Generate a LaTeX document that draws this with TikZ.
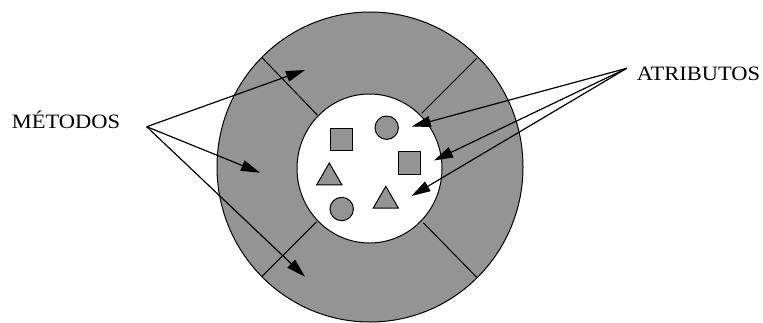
\documentclass[tikz,border=0pt]{standalone}
\usepackage{fontspec}
\setmainfont{Liberation Serif}
\usetikzlibrary{arrows.meta,shapes.geometric}
\definecolor{ringgray}{RGB}{148,148,148}
\tikzset{
  ring/.style={draw=black,line width=1bp},
  sq/.style={draw=black,fill=ringgray,line width=1bp,minimum size=22.5bp,inner sep=0pt,rectangle},
  circ/.style={draw=black,fill=ringgray,line width=1bp,minimum size=23.4bp,inner sep=0pt,circle},
  tri/.style={draw=black,fill=ringgray,line width=1bp,regular polygon,regular polygon sides=3,minimum size=29bp,inner sep=0pt},
  lbl/.style={font=\fontsize{20.5}{24}\selectfont,inner sep=0pt,text=black},
  arr/.style={line width=1.2bp,-{Triangle[length=19bp,width=11bp]}}
}
\begin{document}
\begin{tikzpicture}[x=1bp,y=-1bp]
\useasboundingbox (0,0) rectangle (763,322);
% ring
\fill[ringgray] (370,167) ellipse [x radius=153, y radius=155];
\draw[ring] (370,167) ellipse [x radius=153, y radius=155];
\draw[ring,fill=white] (369.5,168.5) ellipse [x radius=72.5, y radius=74.5];
% dividers
\draw[ring] (261.7,57.3) -- (317.3,115);
\draw[ring] (476.7,58.3) -- (421.7,113.3);
\draw[ring] (316.7,221.7) -- (261.7,276.7);
\draw[ring] (423.3,222.7) -- (476.7,277.3);
% shapes
\node[sq] (s1) at (341.7,139.3) {};
\node[sq] (s2) at (409.7,162.8) {};
\node[circ] (c1) at (386.7,127.7) {};
\node[circ] (c2) at (341.7,209) {};
\node[tri] (t1) at (329.3,177.5) {};
\node[tri] (t2) at (385.8,200.8) {};
% labels
\node[lbl,anchor=west] (met) at (11.7,120) {\scalebox{1.1}[1]{MÉTODOS}};
\node[lbl,anchor=west] (atr) at (636.7,73.5) {\scalebox{1.1}[1]{ATRIBUTOS}};
\coordinate (mo) at (146.7,126.7);
\coordinate (ao) at (626.7,68.3);
\coordinate (m1) at (305,70);
\coordinate (m2) at (260,172.7);
\coordinate (m3) at (305,276.7);
\coordinate (a1) at (411.7,126.5);
\coordinate (a2) at (434,160.5);
\coordinate (a3) at (411.5,196);
\draw[arr] (mo) -- (m1);
\draw[arr] (mo) -- (m2);
\draw[arr] (mo) -- (m3);
\draw[arr] (ao) -- (a1);
\draw[arr] (ao) -- (a2);
\draw[arr] (ao) -- (a3);
\end{tikzpicture}
\end{document}
